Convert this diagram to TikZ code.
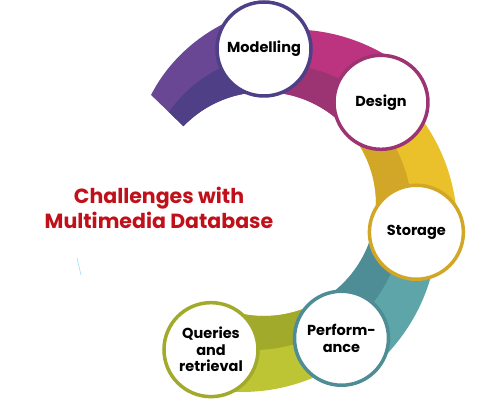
\documentclass[tikz,border=0pt]{standalone}
\usepackage{fontspec}
\setmainfont{Poppins}

\definecolor{purpleL}{HTML}{6A4795}
\definecolor{purpleD}{HTML}{4F3F86}
\definecolor{magentaL}{HTML}{BC3480}
\definecolor{magentaD}{HTML}{9C3473}
\definecolor{yellowL}{HTML}{EBC12B}
\definecolor{yellowD}{HTML}{D2A727}
\definecolor{tealL}{HTML}{5DA5A8}
\definecolor{tealD}{HTML}{4E8D95}
\definecolor{oliveL}{HTML}{BDC534}
\definecolor{oliveD}{HTML}{A2AA2B}
\definecolor{titlered}{HTML}{C0111B}

\tikzset{
  topic/.style={circle, draw=#1, line width=3.5pt, fill=white,
    minimum size=94pt, inner sep=0pt, align=center,
    font=\bfseries\fontsize{14.5}{16.5}\selectfont}
}

% band piece: start angle, end angle, outer radius at start, at end, light, dark
\newcommand{\bandpiece}[6]{%
  \fill[#5] plot[domain=#1:#2, samples=40]
    (\x:{#3+(#4-#3)*(\x-#1)/(#2-#1)}) -- (#2:112)
    arc[start angle=#2, end angle=#1, radius=112] -- cycle;
  \fill[#6] plot[domain=#1:#2, samples=40]
    (\x:{112+0.45*(#3+(#4-#3)*(\x-#1)/(#2-#1)-112)}) -- (#2:112)
    arc[start angle=#2, end angle=#1, radius=112] -- cycle;
}

\begin{document}
\begin{tikzpicture}[x=1pt, y=1pt]
  \useasboundingbox (0,0) rectangle (480,-406);

  \path (264,-204) coordinate (C);

  \begin{scope}[shift={(C)}]
    % the ring
    \bandpiece{136}{88}{157}{197}{purpleL}{purpleD}
    \bandpiece{90}{38}{172}{199}{magentaL}{magentaD}
    \bandpiece{40}{-12}{174}{197}{yellowL}{yellowD}
    \bandpiece{-10}{-62}{176}{199}{tealL}{tealD}
    \bandpiece{-60}{-114}{175}{196}{oliveL}{oliveD}

    \path (90:155) coordinate (P1);
    \path (41:155) coordinate (P2);
    \path (-10.5:155) coordinate (P3);
    \path (-60:155) coordinate (P4);
    \path (-110:155) coordinate (P5);
  \end{scope}

  \node[topic=purpleD] (modelling) at (P1) {Modelling};
  \node[topic=magentaD] (design) at (P2) {Design};
  \node[topic=yellowD] (storage) at (P3) {Storage};
  \node[topic=tealD] (performance) at (P4) {Perform-\\ance};
  \node[topic=oliveD] (queries) at (P5) {Queries\\and\\retrieval};

  \node[text=titlered, align=center, font=\bfseries\fontsize{20.5}{25}\selectfont]
    (title) at (159,-208) {Challenges with\\Multimedia Database};

  % stray stroke
  \draw[cyan!40, line width=0.6pt] (77,-258) -- (81,-275);
\end{tikzpicture}
\end{document}
